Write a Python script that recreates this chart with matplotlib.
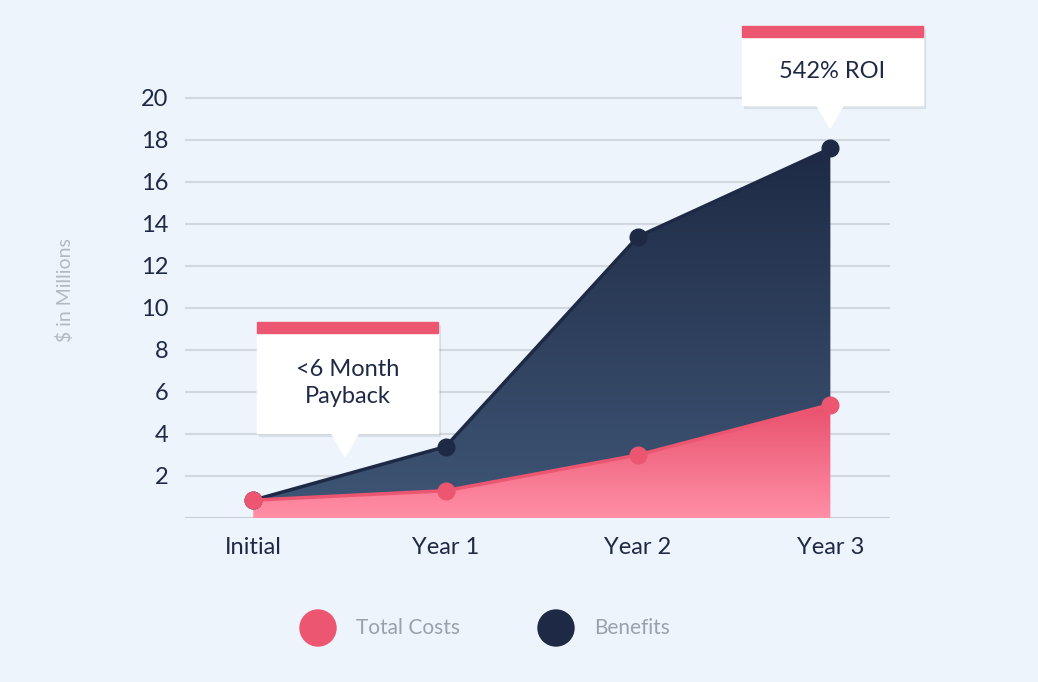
import matplotlib
matplotlib.use("Agg")
import matplotlib.pyplot as plt
import numpy as np
from matplotlib.patches import Polygon, Rectangle, FancyBboxPatch, Circle

categories = ["Initial", "Year 1", "Year 2", "Year 3"]
total_costs = [0.85, 1.3, 3.0, 5.4]
benefits = [0.85, 3.4, 13.4, 17.6]
yticks = [2, 4, 6, 8, 10, 12, 14, 16, 18, 20]

plt.rcParams['font.family'] = ['Lato', 'DejaVu Sans']
BG = "#EDF4FC"; DARK = "#1E2A45"; RED = "#EC5671"
fig = plt.figure(figsize=(10.38, 6.82), dpi=100, facecolor=BG)
ax = fig.add_axes([185/1038, 1-518/682, 705/1038, 428/682])
ax.set_facecolor(BG)
x = np.arange(len(categories))
ax.set_xlim(-0.355, 3.31); ax.set_ylim(0, 20.38)

def grad_fill(xs, lower, upper, c_top, c_bot, z):
    poly = Polygon(np.column_stack([np.r_[xs, xs[::-1]], np.r_[upper, lower[::-1]]]),
                   closed=True, facecolor='none', edgecolor='none')
    ax.add_patch(poly)
    ymax = max(upper)
    n = 256
    t = np.linspace(0, 1, n)[:, None]
    c1 = np.array(matplotlib.colors.to_rgb(c_top)); c2 = np.array(matplotlib.colors.to_rgb(c_bot))
    img = (c1 * (1 - t[..., None]) + c2 * t[..., None]).reshape(n, 1, 3)
    im = ax.imshow(img, extent=[xs[0], xs[-1], 0, ymax], origin='upper', aspect='auto', zorder=z)
    im.set_clip_path(poly)

for yv in yticks:
    ax.axhline(yv, color="#D3D8DF", lw=1.5, zorder=0)
ax.axhline(0, color="#C9CED6", lw=1.5, zorder=0)
grad_fill(x, np.array(total_costs), np.array(benefits), "#1E2A45", "#3F5676", 2)
grad_fill(x, np.zeros(4), np.array(total_costs), "#E9506C", "#FF8FA6", 3)
ax.plot(x, benefits, color=DARK, lw=2.5, marker='o', ms=12, zorder=5)
ax.plot(x, total_costs, color=RED, lw=2.5, marker='o', ms=12, zorder=6)

ax.set_xticks(x, categories)
ax.set_yticks(yticks)
ax.tick_params(length=0, labelsize=17, colors=DARK, pad=14)
ax.tick_params(axis='y', pad=12)
for s in ax.spines.values(): s.set_visible(False)
fig.text(65/1038, 1-290/682, "$ in Millions", rotation=90, va='center', ha='center',
         fontsize=14, color="#B3B9C2")

ov = fig.add_axes([0, 0, 1, 1]); ov.set_xlim(0, 1038); ov.set_ylim(682, 0); ov.axis('off')
ov.patch.set_alpha(0)

def callout(x0, y0, w, h, tipx, tipy, text):
    ov.add_patch(Rectangle((x0+2, y0+3), w, h, color="#000000", alpha=0.06, zorder=1))
    ov.add_patch(Rectangle((x0, y0), w, h, color="white", zorder=2))
    ov.add_patch(Polygon([[tipx-14, y0+h-1], [tipx+14, y0+h-1], [tipx, tipy]], color="white", zorder=2))
    ov.add_patch(Rectangle((x0, y0), w, 11, color=RED, zorder=3))
    ov.text(x0+w/2, y0+11+(h-11)/2, text, ha='center', va='center', fontsize=17,
            color=DARK, zorder=4, linespacing=1.3)

callout(742, 26, 181, 79, 830, 128, "542% ROI")
callout(257, 322, 181, 111, 345, 457, "<6 Month\nPayback")

ov.add_patch(Circle((318, 628), 18, color=RED))
ov.text(356, 628, "Total Costs", va='center', fontsize=15, color="#9AA1AB")
ov.add_patch(Circle((556, 628), 18, color=DARK))
ov.text(594, 628, "Benefits", va='center', fontsize=15, color="#9AA1AB")

fig.savefig("out.png", dpi=100, facecolor=BG)
